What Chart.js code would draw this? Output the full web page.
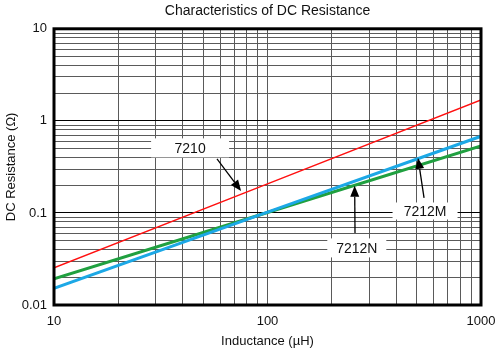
<!DOCTYPE html>
<html>
<head>
<meta charset="utf-8">
<script src="https://cdn.jsdelivr.net/npm/chart.js@4.4.1/dist/chart.umd.min.js"></script>
<style>
  html, body { margin: 0; padding: 0; background: #fff; }
  #wrap { width: 499px; height: 352px; position: relative; }
</style>
</head>
<body>
<div id="wrap"><canvas id="dcr"></canvas></div>
<script>
// values (log-log, straight lines)
const inductance = [10, 100, 1000];
const r7210 = [0.0254, 0.207, 1.69];
const r7212M = [0.0152, 0.102, 0.68];
const r7212N = [0.0192, 0.101, 0.535];

const xTicks = [10,20,30,40,50,60,70,80,90,100,200,300,400,500,600,700,800,900,1000];
const yTicks = [0.01,0.02,0.03,0.04,0.05,0.06,0.07,0.08,0.09,0.1,0.2,0.3,0.4,0.5,0.6,0.7,0.8,0.9,1,2,3,4,5,6,7,8,9,10];
const xLabels = {10:'10', 100:'100', 1000:'1000'};
const yLabels = {0.01:'0.01', 0.1:'0.1', 1:'1', 10:'10'};
const yMajor = [0.1, 1];

// callouts: label centre, arrow start, arrow tip (data units)
const callouts = [
  {text:'7210',  at:[43.4, 0.509], w:78, h:19, from:[58, 0.386],  to:[75.2, 0.173]},
  {text:'7212M', at:[547, 0.105],  w:65, h:17, from:[541, 0.146], to:[507, 0.396]},
  {text:'7212N', at:[262, 0.0417], w:59, h:19, from:[257, 0.0607], to:[256, 0.197]}
];

const FONT = "'Liberation Sans', Arial, sans-serif";
const pts = ys => inductance.map((x, i) => ({x, y: ys[i]}));

const calloutPlugin = {
  id: 'callouts',
  afterDatasetsDraw(chart) {
    const {ctx, scales:{x, y}} = chart;
    ctx.save();
    callouts.forEach(c => {
      const cx = x.getPixelForValue(c.at[0]), cy = y.getPixelForValue(c.at[1]);
      const x0 = x.getPixelForValue(c.from[0]), y0 = y.getPixelForValue(c.from[1]);
      const x1 = x.getPixelForValue(c.to[0]), y1 = y.getPixelForValue(c.to[1]);
      ctx.fillStyle = '#fff';
      ctx.fillRect(cx - c.w/2, cy - c.h/2, c.w, c.h);
      const a = Math.atan2(y1 - y0, x1 - x0), L = 11, W = 4.5;
      const bx = x1 - L*Math.cos(a), by = y1 - L*Math.sin(a);
      ctx.strokeStyle = '#000'; ctx.lineWidth = 1.3;
      ctx.beginPath(); ctx.moveTo(x0, y0); ctx.lineTo(bx, by); ctx.stroke();
      ctx.fillStyle = '#000';
      ctx.beginPath();
      ctx.moveTo(x1, y1);
      ctx.lineTo(bx + W*Math.sin(a), by - W*Math.cos(a));
      ctx.lineTo(bx - W*Math.sin(a), by + W*Math.cos(a));
      ctx.closePath(); ctx.fill();
      ctx.fillStyle = '#111';
      ctx.font = '14px ' + FONT;
      ctx.textAlign = 'center'; ctx.textBaseline = 'middle';
      ctx.fillText(c.text, cx, cy + 1);
    });
    ctx.restore();
  },
  afterDraw(chart) {
    const {ctx, chartArea:a} = chart;
    ctx.save();
    ctx.strokeStyle = '#000'; ctx.lineWidth = 3;
    ctx.strokeRect(a.left, a.top, a.right - a.left, a.bottom - a.top);
    ctx.restore();
  }
};

new Chart(document.getElementById('dcr'), {
  type: 'scatter',
  data: {
    datasets: [
      {label:'7212M', data: pts(r7212M), borderColor:'#1ca8e6', borderWidth:3},
      {label:'7212N', data: pts(r7212N), borderColor:'#20a040', borderWidth:3},
      {label:'7210',  data: pts(r7210),  borderColor:'#ff1010', borderWidth:1.5}
    ].map(d => Object.assign(d, {showLine:true, pointRadius:0, fill:false}))
  },
  options: {
    animation: false, responsive: true, maintainAspectRatio: false,
    layout: {padding: 0},
    plugins: {
      legend: {display: false}, tooltip: {enabled: false},
      title: {display: true, fullSize: false, text: 'Characteristics of DC Resistance', color: '#111',
        font: {family: FONT, size: 14, weight: 'normal'}, padding: {top: 3, bottom: 9}}
    },
    scales: {
      x: {
        type: 'logarithmic', min: 10, max: 1000,
        afterBuildTicks: s => { s.ticks = xTicks.map(v => ({value: v})); },
        afterFit: s => { s.height = 47; s.paddingLeft = 0; s.paddingRight = 18; },
        ticks: {autoSkip: false, maxRotation: 0, padding: 9, color: '#111',
          font: {family: FONT, size: 13}, callback: v => xLabels[v] || ''},
        grid: {color: '#5a5a5a', lineWidth: 1, drawTicks: false},
        border: {display: false},
        title: {display: true, text: 'Inductance (\u00b5H)', color: '#111',
          font: {family: FONT, size: 13}, padding: {top: 0, bottom: 3}}
      },
      y: {
        type: 'logarithmic', min: 0.01, max: 10,
        afterBuildTicks: s => { s.ticks = yTicks.map(v => ({value: v})); },
        afterFit: s => { s.width = 54; },
        ticks: {autoSkip: false, padding: 7, color: '#111',
          font: {family: FONT, size: 13}, callback: v => yLabels[v] || ''},
        grid: {color: c => yMajor.includes(c.tick && c.tick.value) ? '#000' : '#5a5a5a', lineWidth: 1, drawTicks: false},
        border: {display: false},
        title: {display: true, text: 'DC Resistance (\u03a9)', color: '#111',
          font: {family: FONT, size: 13}, padding: {top: 4, bottom: 0}}
      }
    }
  },
  plugins: [calloutPlugin]
});
</script>
</body>
</html>
